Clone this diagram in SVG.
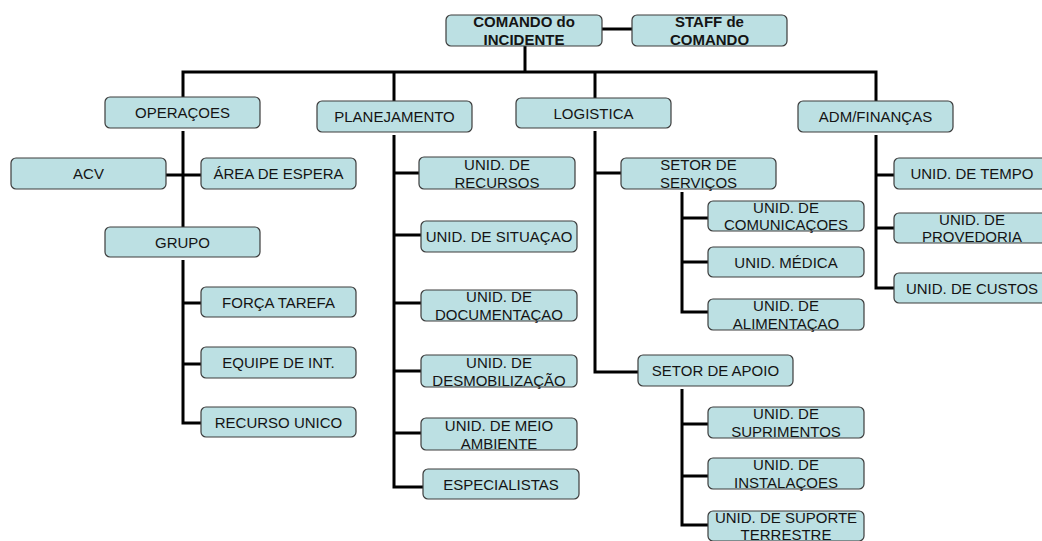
<svg xmlns="http://www.w3.org/2000/svg" width="1042" height="541" viewBox="0 0 1042 541">
<style>
.b{fill:#bce0e3;stroke:#3c3c3c;stroke-width:1.2}
.t{font-family:"Liberation Sans",Arial,sans-serif;font-size:15px;fill:#141414;text-anchor:middle}
.bd{font-weight:bold}
.c{fill:none;stroke:#000;stroke-width:3;stroke-linejoin:miter}
</style>
<rect width="1042" height="541" fill="#fff"/>
<g id="connectors" class="c">
<path d="M602 29H632"/>
<path d="M525 46V72"/>
<path d="M183 97V72H876V101"/>
<path d="M394 72V101"/>
<path d="M595 72V98"/>
<path d="M183 131V227"/>
<path d="M166 175H201"/>
<path d="M183 260V423H201M183 303H201M183 364H201"/>
<path d="M394 135V487H423M394 173H419M394 235H421M394 303H421M394 371H421M394 433H421"/>
<path d="M595 131V372H638M595 173H621"/>
<path d="M682 192V312H708M682 218H708M682 262H708"/>
<path d="M682 389V525H708M682 424H708M682 476H708"/>
<path d="M876 135V288H894M876 175H894M876 228H894"/>
</g>
<g id="cmd"><rect class="b" x="446" y="15" width="156" height="31" rx="5"/><text class="t bd" x="524" y="27">COMANDO do</text><text class="t bd" x="524" y="45">INCIDENTE</text></g>
<g id="staff"><rect class="b" x="632" y="15" width="155" height="31" rx="5"/><text class="t bd" x="709.5" y="27">STAFF de</text><text class="t bd" x="709.5" y="45">COMANDO</text></g>
<g id="ops"><rect class="b" x="105" y="97" width="155" height="31" rx="5"/><text class="t" x="182.5" y="118">OPERAÇOES</text></g>
<g id="plan"><rect class="b" x="317" y="101" width="155" height="31" rx="5"/><text class="t" x="394.5" y="122">PLANEJAMENTO</text></g>
<g id="log"><rect class="b" x="516" y="98" width="155" height="30" rx="5"/><text class="t" x="593.5" y="119">LOGISTICA</text></g>
<g id="adm"><rect class="b" x="798" y="101" width="155" height="31" rx="5"/><text class="t" x="875.5" y="122">ADM/FINANÇAS</text></g>
<g id="acv"><rect class="b" x="11" y="158" width="155" height="31" rx="5"/><text class="t" x="88.5" y="179">ACV</text></g>
<g id="area"><rect class="b" x="201" y="158" width="155" height="31" rx="5"/><text class="t" x="278.5" y="179">ÁREA DE ESPERA</text></g>
<g id="grupo"><rect class="b" x="105" y="227" width="155" height="30" rx="5"/><text class="t" x="182.5" y="248">GRUPO</text></g>
<g id="forca"><rect class="b" x="201" y="287" width="155" height="30" rx="5"/><text class="t" x="278.5" y="308">FORÇA TAREFA</text></g>
<g id="equipe"><rect class="b" x="201" y="347" width="155" height="31" rx="5"/><text class="t" x="278.5" y="368">EQUIPE DE INT.</text></g>
<g id="recurso"><rect class="b" x="201" y="407" width="155" height="30" rx="5"/><text class="t" x="278.5" y="428">RECURSO UNICO</text></g>
<g id="recursos"><rect class="b" x="419" y="157" width="156" height="32" rx="5"/><text class="t" x="497" y="170">UNID. DE</text><text class="t" x="497" y="188">RECURSOS</text></g>
<g id="situacao"><rect class="b" x="421" y="221" width="156" height="31" rx="5"/><text class="t" x="499" y="242">UNID. DE SITUAÇAO</text></g>
<g id="doc"><rect class="b" x="421" y="290" width="156" height="31" rx="5"/><text class="t" x="499" y="302">UNID. DE</text><text class="t" x="499" y="320">DOCUMENTAÇAO</text></g>
<g id="desmob"><rect class="b" x="421" y="355" width="156" height="32" rx="5"/><text class="t" x="499" y="368">UNID. DE</text><text class="t" x="499" y="386">DESMOBILIZAÇÃO</text></g>
<g id="meio"><rect class="b" x="421" y="418" width="156" height="32" rx="5"/><text class="t" x="499" y="431">UNID. DE MEIO</text><text class="t" x="499" y="449">AMBIENTE</text></g>
<g id="espec"><rect class="b" x="423" y="469" width="156" height="30" rx="5"/><text class="t" x="501" y="490">ESPECIALISTAS</text></g>
<g id="servicos"><rect class="b" x="621" y="158" width="155" height="31" rx="5"/><text class="t" x="698.5" y="170">SETOR DE</text><text class="t" x="698.5" y="188">SERVIÇOS</text></g>
<g id="comunic"><rect class="b" x="708" y="201" width="156" height="30" rx="5"/><text class="t" x="786" y="213">UNID. DE</text><text class="t" x="786" y="230">COMUNICAÇOES</text></g>
<g id="medica"><rect class="b" x="708" y="247" width="156" height="30" rx="5"/><text class="t" x="786" y="268">UNID. MÉDICA</text></g>
<g id="aliment"><rect class="b" x="708" y="299" width="156" height="31" rx="5"/><text class="t" x="786" y="311">UNID. DE</text><text class="t" x="786" y="329">ALIMENTAÇAO</text></g>
<g id="apoio"><rect class="b" x="638" y="355" width="155" height="31" rx="5"/><text class="t" x="715.5" y="376">SETOR DE APOIO</text></g>
<g id="suprim"><rect class="b" x="708" y="407" width="156" height="31" rx="5"/><text class="t" x="786" y="419">UNID. DE</text><text class="t" x="786" y="437">SUPRIMENTOS</text></g>
<g id="instal"><rect class="b" x="708" y="458" width="156" height="31" rx="5"/><text class="t" x="786" y="470">UNID. DE</text><text class="t" x="786" y="488">INSTALAÇOES</text></g>
<g id="suporte"><rect class="b" x="708" y="511" width="156" height="30" rx="5"/><text class="t" x="786" y="523">UNID. DE SUPORTE</text><text class="t" x="786" y="540">TERRESTRE</text></g>
<g id="tempo"><rect class="b" x="894" y="158" width="156" height="31" rx="5"/><text class="t" x="972" y="179">UNID. DE TEMPO</text></g>
<g id="proved"><rect class="b" x="894" y="213" width="156" height="30" rx="5"/><text class="t" x="972" y="225">UNID. DE</text><text class="t" x="972" y="242">PROVEDORIA</text></g>
<g id="custos"><rect class="b" x="894" y="273" width="156" height="30" rx="5"/><text class="t" x="972" y="294">UNID. DE CUSTOS</text></g>
</svg>
